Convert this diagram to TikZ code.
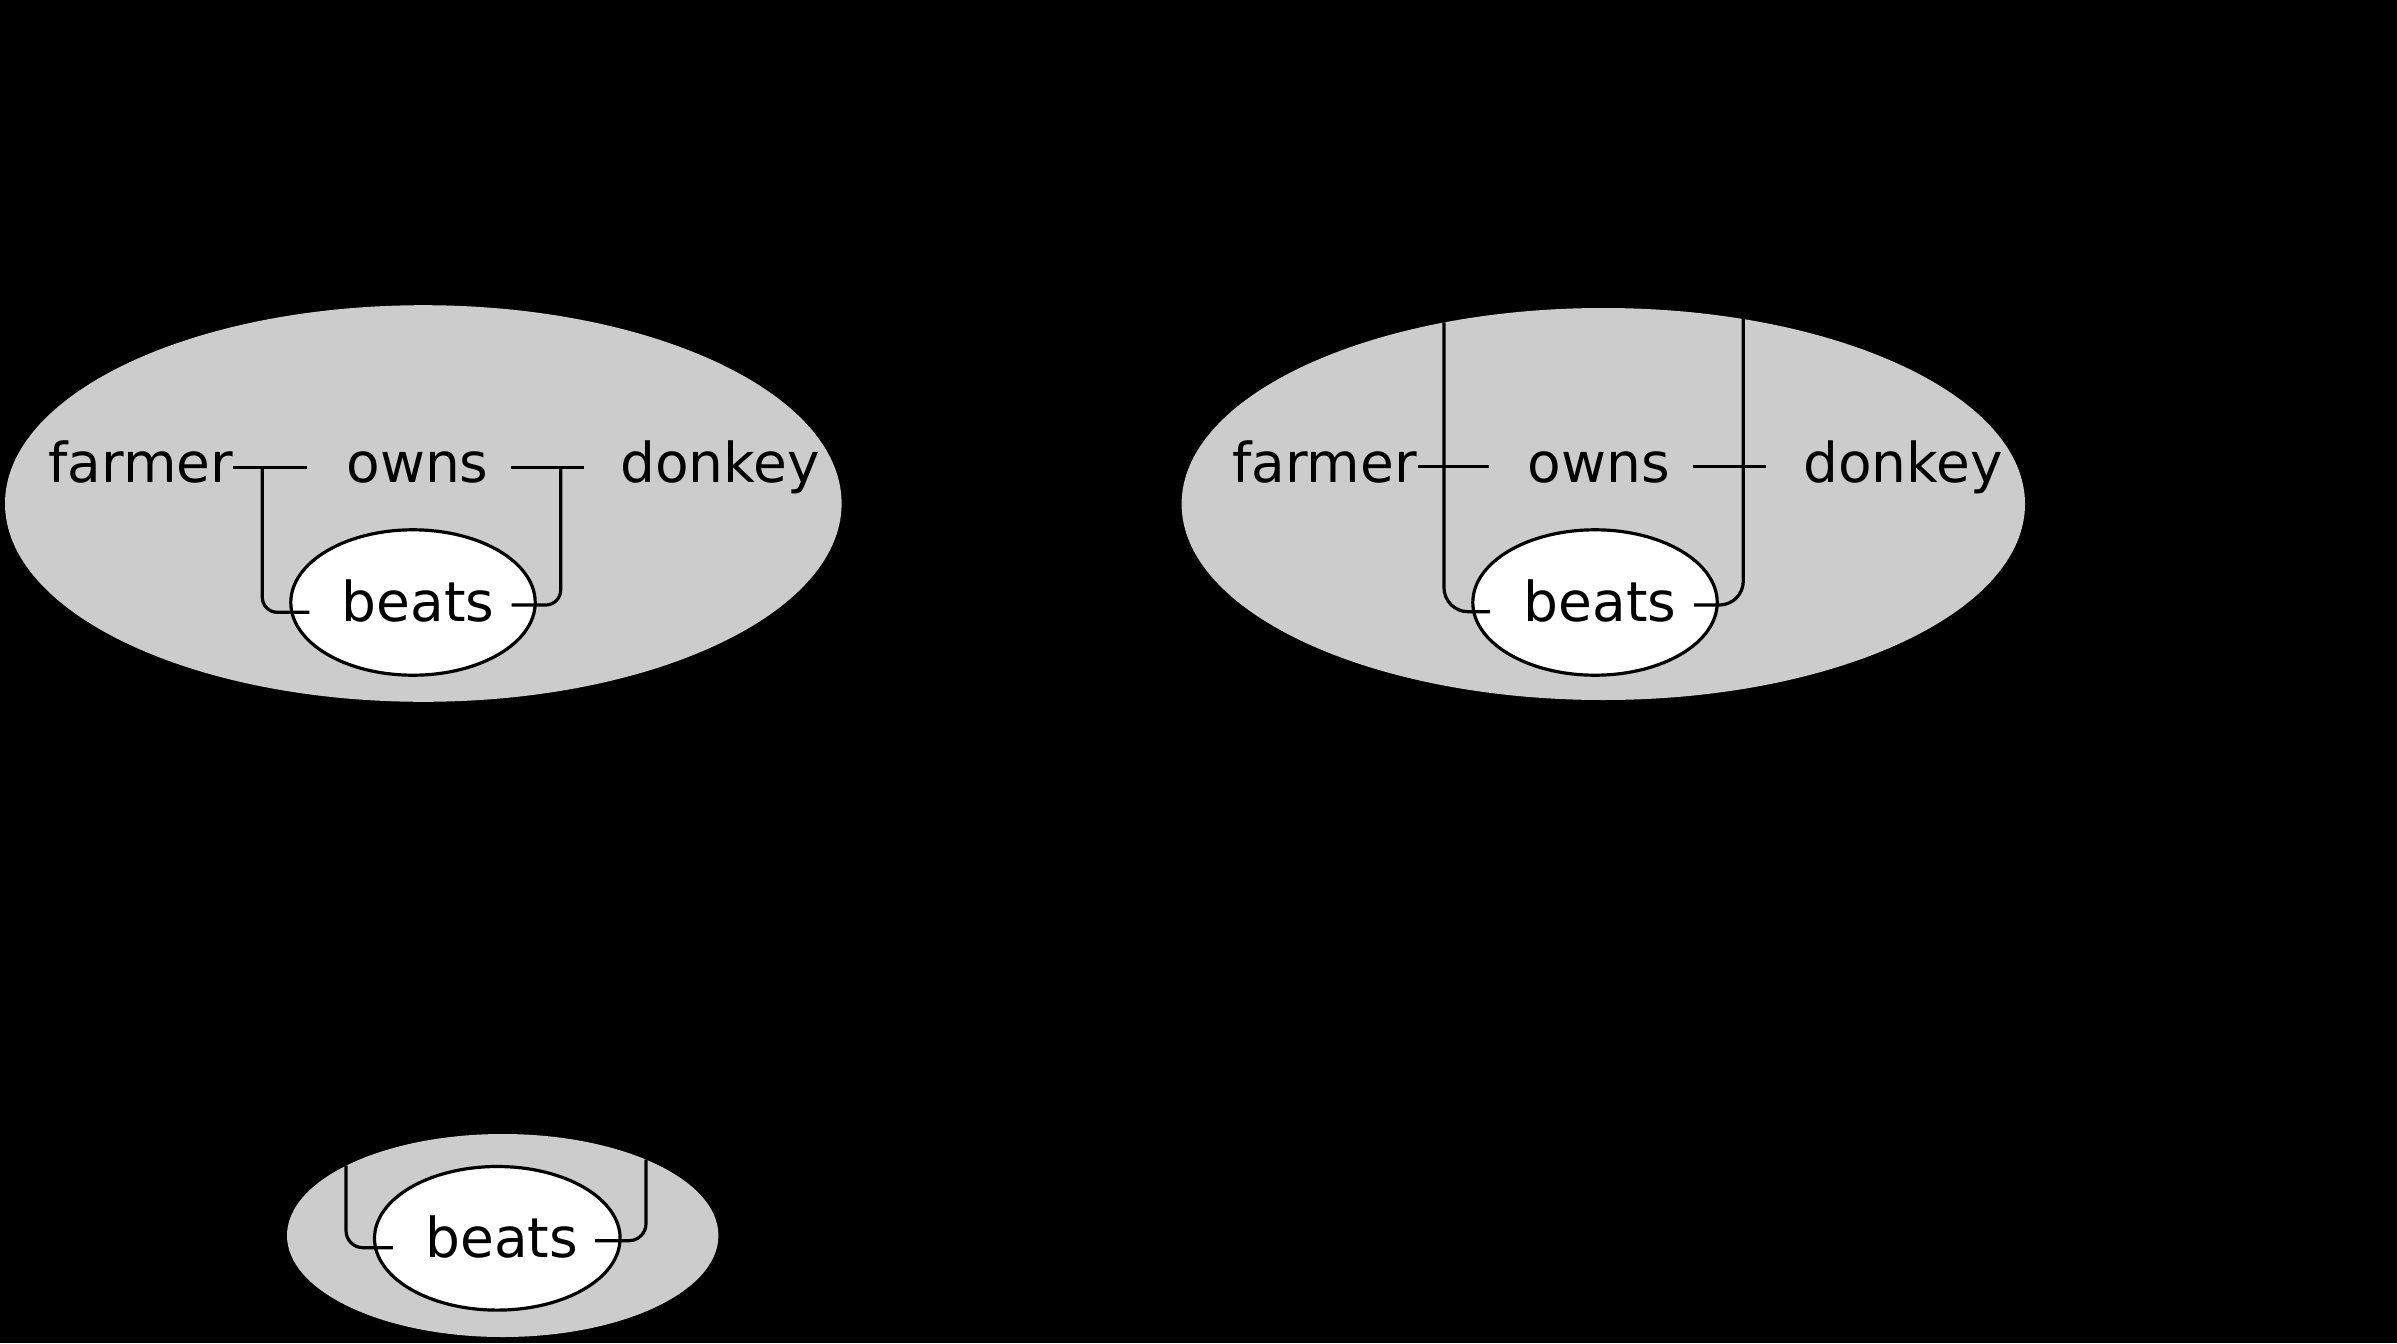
\documentclass[tikz,border=0pt]{standalone}
\usepackage{fontspec}
\setmainfont{DejaVu Sans}
\usetikzlibrary{shapes.geometric}
\definecolor{shade}{RGB}{204,204,204}
\tikzset{
  outerell/.style={ellipse, fill=shade, draw=none, inner sep=0pt, outer sep=0pt},
  innerell/.style={ellipse, fill=white, draw=black, line width=1.6pt, inner sep=0pt, outer sep=0pt},
  word/.style={anchor=base, inner sep=0pt, outer sep=0pt, font=\fontsize{27.5pt}{32pt}\selectfont},
  wire/.style={draw=black, line width=1.6pt},
}
\begin{document}
\begin{tikzpicture}[x=0.5pt, y=-0.5pt]
\fill[black] (0,0) rectangle (2397,1343);
\useasboundingbox (0,0) rectangle (2397,1343);

% ---------- left diagram ----------
\node[outerell, minimum width=418.3pt, minimum height=198.3pt] (gL) at (423.3,503.5) {};
\node[innerell, minimum width=122.2pt, minimum height=72.7pt] (bL) at (413,602.5) {};
\node[word] (farmerL) at (141,482.7) {farmer};
\node[word] (ownsL) at (417.5,482.7) {owns};
\node[word] (donkeyL) at (720,482.7) {donkey};
\node[word] (beatsL) at (418.3,621) {beats};
\coordinate (aL1) at (233,467.3);
\coordinate (aL2) at (307,467.3);
\coordinate (aL3) at (262.3,467.3);
\coordinate (aL4) at (262.3,612.3);
\coordinate (aL5) at (309.3,612.3);
\coordinate (cL1) at (510.7,467.3);
\coordinate (cL2) at (584.3,467.3);
\coordinate (cL3) at (560.7,467.3);
\coordinate (cL4) at (560.7,605);
\coordinate (cL5) at (511.7,605);
\draw[wire] (aL1) -- (aL2);
\draw[wire, rounded corners=7.5pt] (aL3) -- (aL4) -- (aL5);
\draw[wire] (cL1) -- (cL2);
\draw[wire, rounded corners=7.5pt] (cL3) -- (cL4) -- (cL5);

% ---------- right diagram ----------
\node[outerell, minimum width=421.7pt, minimum height=196pt] (gR) at (1603.3,504) {};
\node[innerell, minimum width=122.2pt, minimum height=72.7pt] (bR) at (1595,602.5) {};
\node[word] (farmerR) at (1324.5,482) {farmer};
\node[word] (ownsR) at (1599,482) {owns};
\node[word] (donkeyR) at (1903,482) {donkey};
\node[word] (beatsR) at (1600,621) {beats};
\coordinate (aR1) at (1418,466.7);
\coordinate (aR2) at (1489.3,466.7);
\coordinate (aR3) at (1444,322.3);
\coordinate (aR4) at (1444,611.7);
\coordinate (aR5) at (1490,611.7);
\coordinate (cR1) at (1692.7,466.7);
\coordinate (cR2) at (1766,466.7);
\coordinate (cR3) at (1743.3,318.3);
\coordinate (cR4) at (1743.3,605);
\coordinate (cR5) at (1694,605);
\draw[wire] (aR1) -- (aR2);
\draw[wire, rounded corners=12pt] (aR3) -- (aR4) -- (aR5);
\draw[wire] (cR1) -- (cR2);
\draw[wire, rounded corners=12pt] (cR3) -- (cR4) -- (cR5);

% ---------- bottom diagram ----------
\node[outerell, minimum width=215.7pt, minimum height=101.5pt] (gB) at (502.7,1235.5) {};
\node[innerell, minimum width=122.8pt, minimum height=71.8pt] (bB) at (497.3,1238.3) {};
\node[word] (beatsB) at (501.7,1257) {beats};
\coordinate (aB1) at (346,1165.7);
\coordinate (aB2) at (346,1247.7);
\coordinate (aB3) at (393,1247.7);
\coordinate (cB1) at (646,1159.6);
\coordinate (cB2) at (646,1240.7);
\coordinate (cB3) at (595,1240.7);
\draw[wire, rounded corners=8.5pt] (aB1) -- (aB2) -- (aB3);
\draw[wire, rounded corners=8.5pt] (cB1) -- (cB2) -- (cB3);
\end{tikzpicture}
\end{document}
